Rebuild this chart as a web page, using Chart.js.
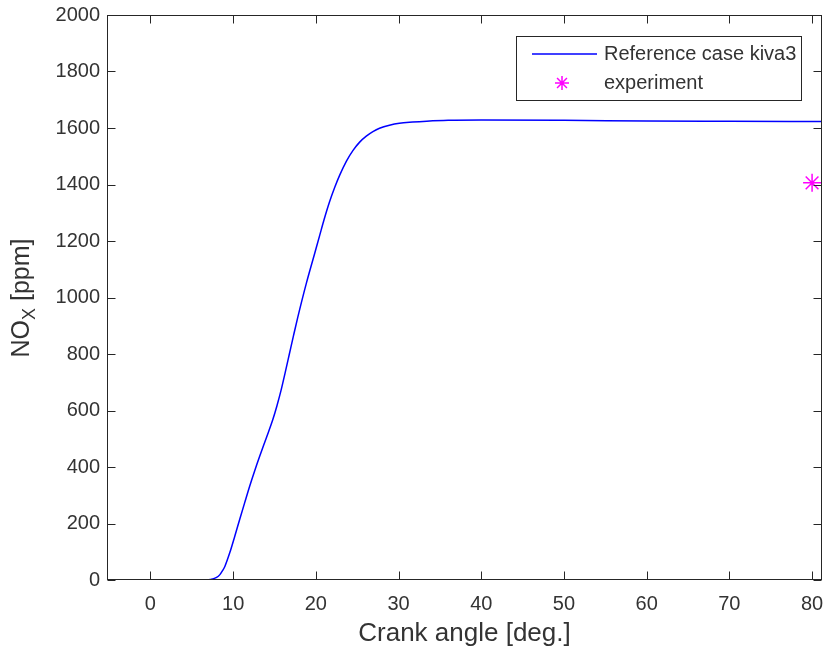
<!DOCTYPE html>
<html>
<head>
<meta charset="utf-8">
<script src="https://cdn.jsdelivr.net/npm/chart.js@4/dist/chart.umd.min.js"></script>
<style>
  html, body { margin: 0; padding: 0; background: #ffffff; }
  canvas { display: block; }
</style>
</head>
<body>
<canvas id="c" width="827" height="653"></canvas>
<script>
// ---- data ----
const crankAngle = [-5.25, 0, 5, 6.5, 7.0, 7.5, 8.0, 8.4, 8.7, 9.0, 9.6, 10.2, 10.8, 11.4, 12.0, 12.6, 13.2, 14.0, 14.8, 15.3, 15.8, 16.3, 16.8, 17.3, 17.8, 18.85, 19.85, 20.45, 21.0, 21.65, 22.3, 22.9, 23.7, 24.5, 25.3, 26.1, 26.9, 27.7, 28.9, 30.1, 31.7, 33.4, 36, 40, 50, 60, 70, 81.2];
const noxKiva3   = [0, 0, 0, 0.3, 1, 3.5, 9, 19, 32, 48, 97, 155, 215, 274, 332, 386, 437, 502, 568, 617, 672, 735, 800, 865, 928, 1050, 1155, 1218, 1276, 1338, 1391, 1434, 1483, 1521, 1550, 1571, 1587, 1599, 1610, 1617, 1621, 1624, 1627, 1628, 1627, 1625, 1624, 1623];
const expAngle = [80];
const expNox   = [1406];
const xTickValues = [0, 10, 20, 30, 40, 50, 60, 70, 80];
const yTickValues = [0, 200, 400, 600, 800, 1000, 1200, 1400, 1600, 1800, 2000];
const seriesLabels = ['Reference case kiva3', 'experiment'];
const xTitle = 'Crank angle [deg.]';
const yTitleMain = 'NO';
const yTitleSub = 'X';
const yTitleRest = ' [ppm]';

const AXIS_COLOR = '#262626';
const TEXT_COLOR = '#333333';
const FONT = '"Liberation Sans", Arial, Helvetica, sans-serif';

const framePlugin = {
  id: 'frame',
  afterDraw(chart) {
    const ctx = chart.ctx;
    const a = chart.chartArea;
    const xs = chart.scales.x, ys = chart.scales.y;
    ctx.save();
    ctx.strokeStyle = AXIS_COLOR;
    ctx.lineWidth = 1;
    const L = Math.round(a.left) + 0.5, R = Math.round(a.right) - 0.5;
    const T = Math.round(a.top) + 0.5, B = Math.round(a.bottom) - 0.5;
    ctx.strokeRect(L, T, R - L, B - T);
    const tl = 8;
    ctx.beginPath();
    xs.ticks.forEach(t => {
      const px = Math.round(xs.getPixelForValue(t.value)) + 0.5;
      ctx.moveTo(px, B); ctx.lineTo(px, B - tl);
      ctx.moveTo(px, T); ctx.lineTo(px, T + tl);
    });
    ys.ticks.forEach(t => {
      const py = Math.round(ys.getPixelForValue(t.value)) + 0.5;
      ctx.moveTo(L, py); ctx.lineTo(L + tl, py);
      ctx.moveTo(R, py); ctx.lineTo(R - tl, py);
    });
    ctx.stroke();

    // y-axis title with subscript
    ctx.fillStyle = TEXT_COLOR;
    ctx.translate(22, 298);
    ctx.rotate(-Math.PI / 2);
    const big = '25px ' + FONT, small = '18px ' + FONT;
    ctx.font = big; const w1 = ctx.measureText(yTitleMain).width; const w3 = ctx.measureText(yTitleRest).width;
    ctx.font = small; const w2 = ctx.measureText(yTitleSub).width;
    let x0 = -(w1 + w2 + w3) / 2;
    ctx.textBaseline = 'middle';
    ctx.textAlign = 'left';
    ctx.font = big; ctx.fillText(yTitleMain, x0, 0); x0 += w1;
    ctx.font = small; ctx.fillText(yTitleSub, x0, 8); x0 += w2;
    ctx.font = big; ctx.fillText(yTitleRest, x0, 0);
    ctx.restore();

    // legend
    ctx.save();
    const bx = 516.5, by = 36.5, bw = 285, bh = 64;
    ctx.fillStyle = '#ffffff';
    ctx.fillRect(bx, by, bw, bh);
    ctx.strokeStyle = AXIS_COLOR;
    ctx.lineWidth = 1;
    ctx.strokeRect(bx, by, bw, bh);
    const ds = chart.data.datasets;
    ctx.strokeStyle = ds[0].borderColor;
    ctx.lineWidth = 1.5;
    ctx.beginPath(); ctx.moveTo(532, 54); ctx.lineTo(597, 54); ctx.stroke();
    ctx.strokeStyle = ds[1].borderColor;
    ctx.lineWidth = 1.5;
    const cx = 562, cy = 83, r = 7;
    ctx.beginPath();
    for (let k = 0; k < 4; k++) {
      const ang = k * Math.PI / 4;
      ctx.moveTo(cx - r * Math.cos(ang), cy - r * Math.sin(ang));
      ctx.lineTo(cx + r * Math.cos(ang), cy + r * Math.sin(ang));
    }
    ctx.stroke();
    ctx.fillStyle = TEXT_COLOR;
    ctx.font = '20px ' + FONT;
    ctx.textBaseline = 'middle';
    ctx.textAlign = 'left';
    ctx.fillText(ds[0].label, 604, 54);
    ctx.fillText(ds[1].label, 604, 83);
    ctx.restore();
  }
};

new Chart(document.getElementById('c'), {
  type: 'scatter',
  data: {
    datasets: [
      {
        label: seriesLabels[0],
        data: crankAngle.map((v, i) => ({ x: v, y: noxKiva3[i] })),
        showLine: true,
        borderColor: '#0000ff',
        borderWidth: 1.5,
        pointRadius: 0,
        cubicInterpolationMode: 'monotone',
        fill: false
      },
      {
        label: seriesLabels[1],
        data: expAngle.map((v, i) => ({ x: v, y: expNox[i] })),
        showLine: false,
        borderColor: '#ff00ff',
        backgroundColor: '#ff00ff',
        pointStyle: 'star',
        pointRadius: 9,
        pointBorderWidth: 1.5,
        clip: false
      }
    ]
  },
  options: {
    responsive: false,
    animation: false,
    events: [],
    layout: { autoPadding: false, padding: { left: 0, top: 15, right: 5, bottom: 0 } },
    plugins: { legend: { display: false }, tooltip: { enabled: false }, title: { display: false } },
    scales: {
      x: {
        type: 'linear',
        min: -5.25,
        max: 81.2,
        afterBuildTicks: s => { s.ticks = xTickValues.map(v => ({ value: v })); },
        afterFit: s => { s.height = 73; s.paddingLeft = 0; s.paddingRight = 0; },
        grid: { display: false, drawTicks: false },
        border: { display: false },
        ticks: { color: TEXT_COLOR, font: { family: FONT, size: 20 }, padding: 12, maxRotation: 0, autoSkip: false, callback: v => String(v) },
        title: { display: true, text: xTitle, color: TEXT_COLOR, font: { family: FONT, size: 26 }, padding: { top: 4, bottom: 4 } }
      },
      y: {
        type: 'linear',
        min: 0,
        max: 2000,
        afterBuildTicks: s => { s.ticks = yTickValues.map(v => ({ value: v })); },
        afterFit: s => { s.width = 107; s.paddingTop = 0; s.paddingBottom = 0; },
        grid: { display: false, drawTicks: false },
        border: { display: false },
        ticks: { color: TEXT_COLOR, font: { family: FONT, size: 20 }, padding: 7, autoSkip: false, callback: v => String(v) }
      }
    }
  },
  plugins: [framePlugin]
});
</script>
</body>
</html>
